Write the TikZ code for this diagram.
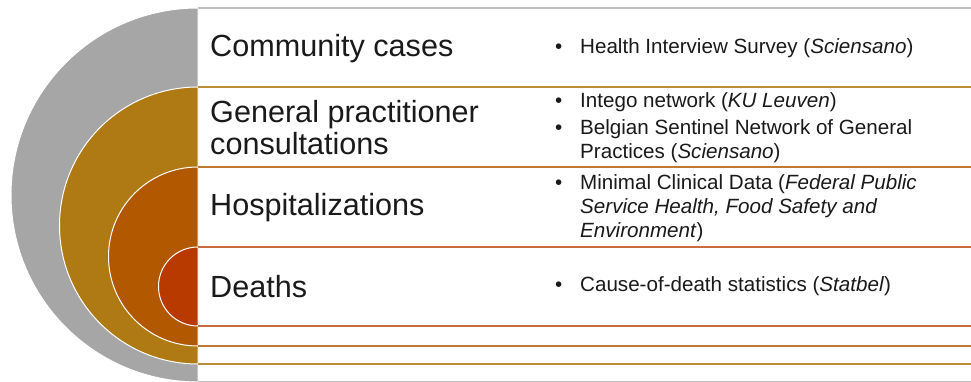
\documentclass[tikz,border=0pt]{standalone}
\usepackage{fontspec}
\setmainfont{Liberation Sans}
\definecolor{cgray}{HTML}{A6A6A6}
\definecolor{cgrayline}{HTML}{BFBFBF}
\definecolor{cgold}{HTML}{AF7A14}
\definecolor{corange}{HTML}{B25800}
\definecolor{cred}{HTML}{B83A00}
\definecolor{ctext}{HTML}{1A1A1A}
\begin{document}
\begin{tikzpicture}[x=1pt,y=1pt,
  ring/.style={draw=white,line width=1pt},
  rowline/.style={line width=1.5pt},
  lbl/.style={anchor=west,inner sep=0pt,align=left,text=ctext,font=\fontsize{30.6}{32}\selectfont},
  src/.style={anchor=west,inner sep=0pt,text=ctext,font=\fontsize{20.6}{24}\selectfont}]
\useasboundingbox (0,0) rectangle (971,382);
\fill[white] (0,0) rectangle (971,382);
% nested half discs
\path[ring,fill=cgray]   (198,374) arc (90:270:187) -- cycle;
\path[ring,fill=cgold]   (198,295) arc (90:270:138.5) -- cycle;
\path[ring,fill=corange] (198,215) arc (90:270:89.5) -- cycle;
\path[ring,fill=cred]    (198,135) arc (90:270:39.5) -- cycle;
% row lines
\draw[rowline,cgrayline] (198,374) -- (971,374);
\draw[rowline,cgold!85!white]   (198,295) -- (971,295);
\draw[rowline,corange!80!white] (198,215) -- (971,215);
\draw[rowline,cred!75!white]    (198,135) -- (971,135);
\draw[rowline,cred!75!white]    (198,56) -- (971,56);
\draw[rowline,corange!80!white] (198,36) -- (971,36);
\draw[rowline,cgold!85!white]   (198,18) -- (971,18);
\draw[line width=1pt,cgrayline] (198,0.5) -- (971,0.5);
% labels
\node[lbl] (community) at (210,333.5) {Community cases};
\node[lbl] (gp) at (210,254) {General practitioner\\consultations};
\node[lbl] (hosp) at (210,174.5) {Hospitalizations};
\node[lbl] (deaths) at (210,95) {Deaths};
% sources
\node[src] (s1) at (555,333.5) {\begin{tabular}{@{}p{25pt}@{}l@{}}•&Health Interview Survey (\textit{Sciensano})\end{tabular}};
\node[src] (s2) at (555,254) {\begin{tabular}{@{}p{25pt}@{}l@{}}•&Intego network (\textit{KU Leuven})\\[3pt]•&Belgian Sentinel Network of General\\[0.5pt]&Practices (\textit{Sciensano})\end{tabular}};
\node[src] (s3) at (555,173.5) {\begin{tabular}{@{}p{25pt}@{}l@{}}•&Minimal Clinical Data (\textit{Federal Public}\\&\textit{Service Health, Food Safety and}\\&\textit{Environment})\end{tabular}};
\node[src] (s4) at (555,95) {\begin{tabular}{@{}p{25pt}@{}l@{}}•&Cause-of-death statistics (\textit{Statbel})\end{tabular}};
\end{tikzpicture}
\end{document}
